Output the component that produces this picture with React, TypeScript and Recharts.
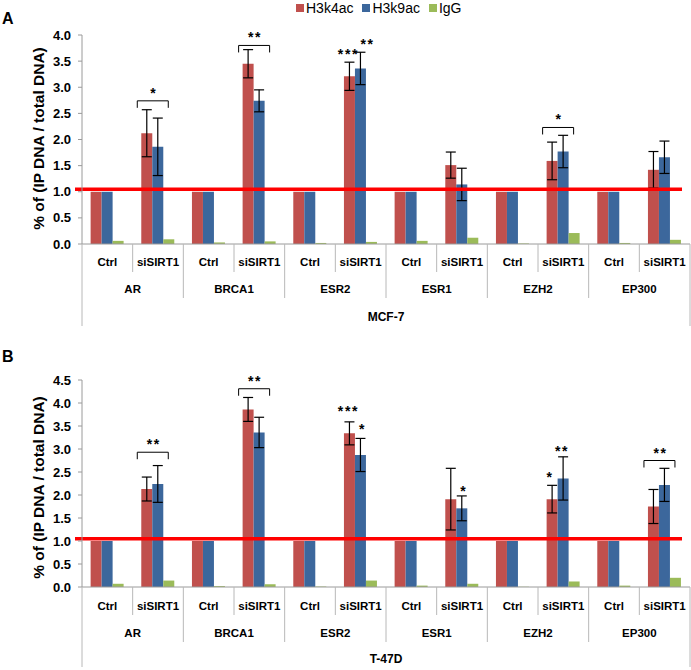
import React from 'react';
import { BarChart, Bar, XAxis, YAxis, ReferenceLine, ErrorBar, Legend } from 'recharts';

const genes = ['AR', 'BRCA1', 'ESR2', 'ESR1', 'EZH2', 'EP300'];
const conditions = ['Ctrl', 'siSIRT1'];
const seriesNames = ['H3k4ac', 'H3k9ac', 'IgG'];
const yTicksA = [0, 0.5, 1, 1.5, 2, 2.5, 3, 3.5, 4];
const yTicksB = [0, 0.5, 1, 1.5, 2, 2.5, 3, 3.5, 4, 4.5];
const baselineLevel = 1.05;

// Panel A: MCF-7
const h3k4A = [1.0, 2.12, 1.0, 3.45, 1.0, 3.21, 1.0, 1.51, 1.0, 1.59, 1.0, 1.42];
const h3k4ErrA = [0, 0.45, 0, 0.27, 0, 0.27, 0, 0.25, 0, 0.36, 0, 0.35];
const h3k9A = [1.0, 1.86, 1.0, 2.74, 1.0, 3.36, 1.0, 1.14, 1.0, 1.77, 1.0, 1.66];
const h3k9ErrA = [0, 0.55, 0, 0.21, 0, 0.31, 0, 0.31, 0, 0.31, 0, 0.31];
const iggA = [0.06, 0.09, 0.03, 0.05, 0.02, 0.04, 0.06, 0.12, 0.01, 0.21, 0.02, 0.08];

// Panel B: T-47D
const h3k4B = [1.0, 2.13, 1.0, 3.86, 1.0, 3.34, 1.0, 1.91, 1.0, 1.91, 1.0, 1.75];
const h3k4ErrB = [0, 0.26, 0, 0.26, 0, 0.25, 0, 0.67, 0, 0.3, 0, 0.37];
const h3k9B = [1.0, 2.24, 1.0, 3.36, 1.0, 2.87, 1.0, 1.71, 1.0, 2.36, 1.0, 2.22];
const h3k9ErrB = [0, 0.4, 0, 0.33, 0, 0.36, 0, 0.27, 0, 0.47, 0, 0.36];
const iggB = [0.07, 0.14, 0.02, 0.06, 0.01, 0.14, 0.03, 0.07, 0.005, 0.12, 0.03, 0.2];

type Ann = { index: number; target: 'bracket' | 'h3k4' | 'h3k9'; level: number; text: string; dx?: number };

const annotationsA: Ann[] = [
  { index: 1, target: 'bracket', level: 2.74, text: '*' },
  { index: 3, target: 'bracket', level: 3.8, text: '**' },
  { index: 5, target: 'h3k4', level: 3.68, text: '***', dx: -2 },
  { index: 5, target: 'h3k9', level: 3.87, text: '**', dx: 6 },
  { index: 9, target: 'bracket', level: 2.23, text: '*' },
];

const annotationsB: Ann[] = [
  { index: 1, target: 'bracket', level: 2.93, text: '**' },
  { index: 3, target: 'bracket', level: 4.31, text: '**' },
  { index: 5, target: 'h3k4', level: 3.87, text: '***', dx: -2 },
  { index: 5, target: 'h3k9', level: 3.48, text: '*', dx: 1 },
  { index: 7, target: 'h3k9', level: 2.13, text: '*', dx: 1 },
  { index: 9, target: 'h3k4', level: 2.44, text: '*', dx: -3 },
  { index: 9, target: 'h3k9', level: 3.0, text: '**', dx: -2 },
  { index: 11, target: 'bracket', level: 2.75, text: '**' },
];

const FONT = '"Liberation Sans", Arial, sans-serif';
const RED = '#C0504D';
const BLUE = '#3C679C';
const GREEN = '#9BBB59';
const GRID = '#b8b8b8';

function buildData(h3k4: number[], h3k4Err: number[], h3k9: number[], h3k9Err: number[], igg: number[]) {
  const rows: any[] = [];
  genes.forEach((g, gi) =>
    conditions.forEach((c, ci) => {
      const i = gi * 2 + ci;
      rows.push({
        key: `${g}|${c}`,
        h3k4: h3k4[i],
        h3k4Err: h3k4Err[i],
        h3k9: h3k9[i],
        h3k9Err: h3k9Err[i],
        igg: igg[i],
      });
    })
  );
  return rows;
}

const dataA = buildData(h3k4A, h3k4ErrA, h3k9A, h3k9ErrA, iggA);
const dataB = buildData(h3k4B, h3k4ErrB, h3k9B, h3k9ErrB, iggB);

const CHART_W = 691;
const CHART_H = 335;
const Y_W = 82;
const MARGIN_R = 1;
const BAND = (CHART_W - Y_W - MARGIN_R) / 12;

type Rows = { cond: number; gene: number; cell: number; short: number; long: number; outer: number };

const makeXTick = (cellLine: string, rows: Rows) => (props: any) => {
  const { x, y, payload } = props;
  const i: number = payload?.index ?? props.index;
  const [gene, cond] = String(payload.value).split('|');
  const half = BAND / 2;
  const ts = { fontFamily: FONT, fontSize: 11.5, fontWeight: 'bold' as const, fill: '#000' };
  return (
    <g>
      <text x={x} y={y + rows.cond} textAnchor="middle" {...ts}>{cond}</text>
      {i % 2 === 0 ? (
        <line x1={x + half} x2={x + half} y1={y} y2={y + rows.short} stroke={GRID} />
      ) : (
        <text x={x - half} y={y + rows.gene} textAnchor="middle" {...ts}>{gene}</text>
      )}
      {i % 2 === 1 && i < 11 ? (
        <line x1={x + half} x2={x + half} y1={y} y2={y + rows.long} stroke={GRID} />
      ) : null}
      {i === 0 ? <line x1={x - half} x2={x - half} y1={y} y2={y + rows.outer} stroke={GRID} /> : null}
      {i === 11 ? <line x1={x + half} x2={x + half} y1={y} y2={y + rows.outer} stroke={GRID} /> : null}
      {i === 5 ? (
        <text x={x + half} y={y + rows.cell} textAnchor="middle" {...ts} fontSize={12}>{cellLine}</text>
      ) : null}
    </g>
  );
};

const makeYTitle = (letter: string, letterY: number, shift: number) => (props: any) => {
  const vb = props.viewBox || {};
  const cx = 38;
  const cy = vb.y + vb.height / 2 + shift;
  return (
    <g>
      <text
        x={cx}
        y={cy}
        transform={`rotate(-90 ${cx} ${cy})`}
        textAnchor="middle"
        dominantBaseline="central"
        fontFamily={FONT}
        fontSize={15.5}
        fontWeight="bold"
        fill="#000"
      >
        % of (IP DNA / total DNA)
      </text>
      <text x={2} y={letterY} fontFamily={FONT} fontSize={16} fontWeight="bold" fill="#000">
        {letter}
      </text>
    </g>
  );
};

const Stars = ({ cx, cy, text }: { cx: number; cy: number; text: string }) => (
  <text
    x={cx + 1}
    y={cy + 7}
    textAnchor="middle"
    fontFamily={FONT}
    fontSize={14}
    fontWeight="bold"
    letterSpacing={1.6}
    fill="#000"
  >
    {text}
  </text>
);

const makeAnnLabel = (anns: Ann[], series: 'h3k4' | 'h3k9') => (p: any) => {
  const vb = p.viewBox && p.viewBox.width !== undefined ? p.viewBox : p;
  const x = Number(vb.x);
  const y = Number(vb.y);
  const w = Number(vb.width);
  const h = Number(vb.height);
  const v = Number(p.value);
  const idx = p.index;
  const list = anns.filter(
    (a) => a.index === idx && (a.target === series || (series === 'h3k4' && a.target === 'bracket'))
  );
  if (!list.length || !v || !isFinite(h)) return null;
  const ppu = h / v;
  const zeroY = y + h;
  return (
    <g>
      {list.map((a, k) => {
        const ly = zeroY - a.level * ppu;
        if (a.target === 'bracket') {
          const x0 = x - 4;
          const x1 = x + 2 * w + 5;
          return (
            <g key={k}>
              <path
                d={`M${x0},${ly + 7} L${x0},${ly} L${x1},${ly} L${x1},${ly + 7}`}
                fill="none"
                stroke="#000"
                strokeWidth={1}
              />
              <Stars cx={(x0 + x1) / 2} cy={ly - 10} text={a.text} />
            </g>
          );
        }
        return <Stars key={k} cx={x + w / 2 + (a.dx || 0)} cy={ly} text={a.text} />;
      })}
    </g>
  );
};

const LegendContent = (props: any) => {
  const payload = props.payload || [];
  return (
    <div
      style={{
        display: 'flex',
        alignItems: 'center',
        fontFamily: FONT,
        fontSize: 14,
        color: '#000',
        lineHeight: '16px',
        whiteSpace: 'nowrap',
      }}
    >
      {payload.map((p: any, i: number) => (
        <span key={i} style={{ display: 'flex', alignItems: 'center', marginRight: 9 }}>
          <span style={{ display: 'inline-block', width: 8, height: 8, background: p.color, marginRight: 2 }} />
          {p.value}
        </span>
      ))}
    </div>
  );
};

const RedLine = (p: any) => (
  <line x1={p.x1 - 7} y1={p.y1} x2={p.x2 - 8} y2={p.y2} stroke="#FF0000" strokeWidth={3.5} />
);

type PanelProps = {
  data: any[];
  anns: Ann[];
  ticks: number[];
  letter: string;
  letterY: number;
  titleShift: number;
  cellLine: string;
  marginTop: number;
  xHeight: number;
  rows: Rows;
  showLegend: boolean;
};

const Panel = (pp: PanelProps) => (
  <BarChart
    width={CHART_W}
    height={CHART_H}
    data={pp.data}
    margin={{ top: pp.marginTop, right: MARGIN_R, left: 0, bottom: 0 }}
    barCategoryGap="17%"
    barGap={0}
  >
    <XAxis
      dataKey="key"
      interval={0}
      height={pp.xHeight}
      tickLine={false}
      tickSize={0}
      tickMargin={0}
      axisLine={{ stroke: '#9a9a9a' }}
      tick={makeXTick(pp.cellLine, pp.rows)}
    />
    <YAxis
      width={Y_W}
      domain={[0, pp.ticks[pp.ticks.length - 1]]}
      ticks={pp.ticks}
      tickFormatter={(v: number) => v.toFixed(1)}
      tickSize={4}
      tickMargin={7}
      axisLine={{ stroke: '#9a9a9a' }}
      tickLine={{ stroke: '#9a9a9a' }}
      tick={{ fill: '#000', fontSize: 13, fontWeight: 'bold', fontFamily: FONT }}
      label={makeYTitle(pp.letter, pp.letterY, pp.titleShift)}
    />
    {pp.showLegend ? (
      <Legend
        verticalAlign="middle"
        align="center"
        layout="horizontal"
        wrapperStyle={{ top: 0, left: 296, width: 200, height: 16 }}
        content={LegendContent}
      />
    ) : null}
    <Bar dataKey="h3k4" name={seriesNames[0]} fill={RED} isAnimationActive={false} label={makeAnnLabel(pp.anns, 'h3k4')}>
      <ErrorBar dataKey="h3k4Err" width={5} stroke="#000" strokeWidth={1.2} direction="y" />
    </Bar>
    <Bar dataKey="h3k9" name={seriesNames[1]} fill={BLUE} isAnimationActive={false} label={makeAnnLabel(pp.anns, 'h3k9')}>
      <ErrorBar dataKey="h3k9Err" width={5} stroke="#000" strokeWidth={1.2} direction="y" />
    </Bar>
    <Bar dataKey="igg" name={seriesNames[2]} fill={GREEN} isAnimationActive={false} />
    <ReferenceLine y={baselineLevel} stroke="#FF0000" strokeWidth={3.5} shape={RedLine} ifOverflow="visible" />
  </BarChart>
);

export default function App() {
  return (
    <div style={{ position: 'absolute', left: 0, top: 0, width: 691, height: 670, background: '#fff' }}>
      <div style={{ width: CHART_W, height: CHART_H }}>
        <Panel
          data={dataA}
          anns={annotationsA}
          ticks={yTicksA}
          letter="A"
          letterY={24}
          titleShift={-1}
          cellLine="MCF-7"
          marginTop={35}
          xHeight={91}
          rows={{ cond: 22, gene: 49, cell: 77, short: 28, long: 54, outer: 82 }}
          showLegend={true}
        />
      </div>
      <div style={{ width: CHART_W, height: CHART_H }}>
        <Panel
          data={dataB}
          anns={annotationsB}
          ticks={yTicksB}
          letter="B"
          letterY={27}
          titleShift={4}
          cellLine="T-47D"
          marginTop={45}
          xHeight={83}
          rows={{ cond: 23, gene: 50, cell: 76, short: 28, long: 55, outer: 80 }}
          showLegend={false}
        />
      </div>
    </div>
  );
}
